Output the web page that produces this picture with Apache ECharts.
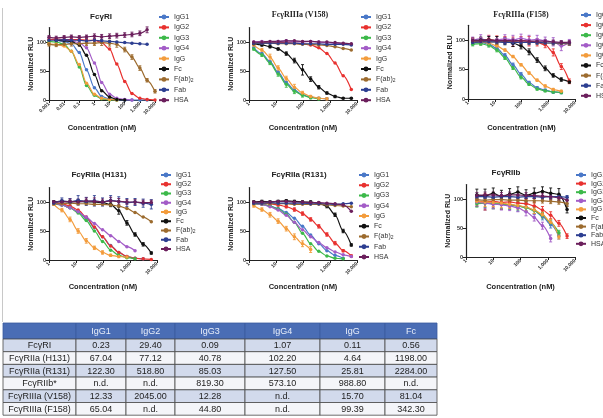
<!DOCTYPE html>
<html>
<head>
<meta charset="utf-8">
<script src="https://cdn.jsdelivr.net/npm/echarts/dist/echarts.min.js"></script>
<style>
html, body { margin: 0; padding: 0; background: #fff; }
#chart { width: 603px; height: 418px; }
</style>
</head>
<body>
<div id="chart"></div>
<script>
var seriesNames = ['IgG1', 'IgG2', 'IgG3', 'IgG4', 'IgG', 'Fc', 'F(ab)2', 'Fab', 'HSA'];
var seriesColors = ['#4a78c8', '#e8312f', '#3cb94a', '#a35cc7', '#f39c3c', '#111111', '#9c6b2e', '#2c3e91', '#6b1f5c'];

// FcγRI
var concRI = [0.001, 0.003, 0.01, 0.03, 0.1, 0.3, 1, 3, 10, 30, 100, 300, 1000, 3000, 10000];
var rluRI = [
    [null, 103, 101, 97, 82, 52, 21, 6, 2, 0, 0, 0, 0, 0, null],
    [104, 105, 104, 104, 104, 103, 103, 99, 88, 62, 32, 11, 3, 1, 0],
    [101, 100, 96, 84, 57, 25, 8, 2, 0, 0, null, null, null, null, null],
    [null, 103, 103, 102, 99, 90, 64, 30, 10, 3, 1, 0, null, null, null],
    [97, 96, 93, 84, 61, 29, 10, 3, 1, 0, null, null, null, null, null],
    [null, 103, 102, 101, 95, 77, 44, 16, 5, 1, 0, null, null, null, null],
    [96, 95, 96, 97, 97, 98, 98, 99, 98, 96, 87, 74, 55, 34, 15],
    [103, 103, 104, 103, 103, 102, 103, 102, 101, 100, 99, 98, 97, 96, null],
    [108, 107, 108, 109, 108, 109, 110, 109, 110, 111, 112, 113, 115, 121, null]
];
var errRI = [
    null, null, null, null, null, null,
    [3, 3, 3, 4, 4, 4, 4, 5, 5, 5, 4, 4, 4, 3, 3],
    null,
    [3, 3, 3, 3, 3, 3, 4, 4, 4, 4, 4, 4, 4, 5, null]
];

// FcγRIIIa (V158)
var concV158 = [1.5, 3, 6, 12, 24, 48, 96, 192, 384, 768, 1536, 3072, 6144];
var rluV158 = [
    [90, 80, 66, 48, 30, 17, 9, 5, 3, 2, null, null, null],
    [99, 99, 99, 99, 99, 98, 97, 95, 90, 80, 64, 42, 18],
    [88, 78, 64, 45, 27, 15, 8, 4, 2, null, null, null, null],
    [100, 101, 100, 101, 102, 101, 100, 101, 100, 99, 98, 97, 96],
    [95, 86, 74, 55, 37, 22, 12, 6, 3, 2, null, null, null],
    [97, 95, 92, 88, 80, 68, 52, 36, 22, 12, 6, 3, 3],
    [98, 98, 98, 97, 97, 97, 96, 96, 95, 94, 92, 89, 86],
    [98, 98, 98, 98, 98, 98, 97, 97, 97, 96, 96, 96, 95],
    [100, 100, 101, 101, 102, 102, 101, 101, 100, 100, 99, 98, 97]
];
var errV158 = [
    null, null,
    [2, 3, 3, 4, 5, 4, 3, 2, 2, null, null, null, null],
    null,
    [2, 3, 5, 4, 4, 5, 3, 2, 2, 2, null, null, null],
    [2, 2, 2, 2, 3, 4, 9, 4, 3, 2, 2, 1, 1],
    null, null, null
];

// FcγRIIIa (F158)
var concF158 = [1.5, 3, 6, 12, 24, 48, 96, 192, 384, 768, 1536, 3072, 6144];
var rluF158 = [
    [95, 96, 93, 86, 74, 58, 42, 28, 19, 15, 12, 11, null],
    [100, 98, 101, 99, 100, 97, 99, 98, 96, 92, 79, 55, 30],
    [93, 94, 91, 83, 70, 53, 37, 25, 17, 14, 12, 11, null],
    [100, 102, 99, 100, 102, 100, 103, 100, 101, 99, 97, 90, 96],
    [97, 97, 95, 90, 83, 72, 58, 44, 32, 22, 16, 13, null],
    [99, 100, 100, 99, 98, 95, 90, 80, 66, 52, 40, 33, 29],
    [97, 98, 97, 97, 97, 97, 96, 96, 96, 95, 95, 94, 94],
    [96, 97, 97, 97, 96, 96, 96, 96, 96, 95, 95, 95, 95],
    [99, 99, 100, 99, 99, 99, 99, 98, 98, 98, 97, 96, 96]
];
var errF158 = [
    [3, 3, 3, 3, 3, 3, 3, 2, 2, 2, 2, 2, null],
    [4, 6, 7, 8, 6, 8, 7, 8, 6, 5, 6, 5, 4],
    [3, 3, 3, 3, 3, 3, 3, 2, 2, 2, 2, 2, null],
    [5, 7, 8, 6, 7, 8, 7, 8, 7, 6, 7, 8, 5],
    [2, 2, 2, 2, 2, 2, 2, 2, 2, 2, 2, 2, null],
    [4, 5, 6, 7, 6, 6, 5, 5, 4, 4, 3, 3, 2],
    [3, 3, 3, 3, 3, 3, 3, 3, 3, 3, 3, 3, 3],
    [3, 3, 3, 3, 3, 3, 3, 3, 3, 3, 3, 3, 3],
    [3, 3, 3, 3, 3, 3, 3, 3, 3, 3, 3, 3, 3]
];

// FcγRIIa (H131)
var concH131 = [1.5, 3, 6, 12, 24, 48, 96, 192, 384, 768, 1536, 3072, 6144];
var rluH131 = [
    [98, 95, 90, 83, 72, 56, 40, 25, 13, 6, 3, 2, null],
    [99, 97, 93, 86, 74, 57, 40, 24, 13, 6, 3, 2, 1],
    [97, 95, 90, 81, 68, 50, 32, 17, 8, 4, 2, null, null],
    [99, 95, 90, 83, 74, 63, 52, 42, 32, 23, 16, null, null],
    [96, 86, 70, 50, 33, 21, 13, 8, 6, 5, null, null, null],
    [100, 101, 100, 101, 100, 100, 99, 96, 85, 64, 44, 27, 12],
    [97, 97, 98, 97, 97, 96, 96, 95, 93, 89, 82, 74, 66],
    [98, 102, 100, 103, 101, 102, 100, 103, 101, 99, 100, 98, 96],
    [100, 100, 101, 100, 102, 101, 100, 102, 101, 100, 100, 99, 99]
];
var errH131 = [
    null, null, null, null,
    [2, 3, 4, 4, 4, 3, 3, 2, 2, 2, null, null, null],
    [2, 2, 2, 3, 3, 3, 3, 4, 6, 4, 3, 3, 2],
    null,
    [3, 5, 6, 8, 7, 9, 7, 8, 8, 7, 6, 7, 8],
    [2, 3, 4, 5, 5, 6, 5, 6, 5, 4, 4, 4, 4]
];

// FcγRIIa (R131)
var concR131 = [1.5, 3, 6, 12, 24, 48, 96, 192, 384, 768, 1536, 3072, 6144];
var rluR131 = [
    [97, 96, 93, 89, 82, 72, 58, 43, 28, 16, 8, 3, null],
    [99, 98, 97, 95, 92, 87, 80, 70, 58, 44, 29, 16, 7],
    [97, 96, 93, 88, 79, 65, 46, 28, 15, 7, 3, 2, null],
    [98, 96, 92, 86, 77, 65, 52, 40, 30, 21, 14, 9, 6],
    [94, 87, 78, 67, 54, 40, 28, 18, null, null, null, null, null],
    [100, 101, 100, 101, 102, 101, 100, 100, 98, 93, 78, 50, 26],
    [97, 97, 97, 97, 97, 96, 96, 96, 96, 95, 94, 93, 92],
    [98, 98, 99, 98, 98, 98, 98, 97, 97, 97, 96, 97, 98],
    [100, 100, 100, 101, 101, 100, 100, 99, 99, 98, 97, 95, 84]
];
var errR131 = [
    null,
    [2, 2, 2, 2, 2, 3, 3, 3, 3, 3, 3, 2, 2],
    null, null,
    [3, 3, 4, 4, 4, 5, 5, 5, null, null, null, null, null],
    [2, 2, 2, 2, 2, 2, 2, 2, 2, 3, 3, 3, 2],
    null, null, null
];

// FcγRIIb
var concRIIb = [2.5, 5, 10, 20, 40, 80, 160, 320, 640, 1280, 2560, 5120];
var rluRIIb = [
    [95, 93, 94, 92, 90, 88, 86, 80, 70, 56, 36, null],
    [97, 95, 96, 94, 95, 93, 92, 88, 81, 72, 58, 36],
    [92, 93, 92, 91, 90, 88, 85, 80, 72, 59, 42, null],
    [95, 93, 91, 90, 88, 85, 78, 68, 54, 32, null, null],
    [96, 95, 94, 93, 91, 89, 86, 81, 73, 60, 35, null],
    [107, 105, 110, 104, 108, 112, 106, 110, 113, 110, 108, 82],
    [99, 98, 99, 99, 98, 98, 97, 97, 97, 96, 95, 92],
    [104, 104, 103, 104, 104, 103, 104, 104, 103, 104, 104, 103],
    [106, 107, 107, 106, 107, 107, 106, 106, 105, 104, 102, 98]
];
var errRIIb = [
    [8, 12, 10, 9, 8, 9, 8, 7, 6, 6, 5, null],
    [9, 14, 10, 12, 9, 8, 7, 6, 6, 6, 5, 4],
    [6, 8, 9, 8, 7, 7, 6, 5, 5, 5, 4, null],
    [7, 9, 8, 9, 8, 7, 7, 6, 6, 6, null, null],
    [6, 8, 7, 8, 7, 6, 6, 6, 5, 5, 4, null],
    [10, 12, 9, 11, 10, 9, 10, 9, 8, 9, 10, 6],
    [4, 4, 4, 4, 4, 4, 4, 4, 4, 4, 4, 5],
    [3, 3, 3, 3, 3, 3, 3, 3, 3, 3, 3, 3],
    [5, 5, 5, 5, 5, 5, 5, 5, 5, 5, 5, 5]
];

// IC50 table (nM), null = n.d.
var tableCols = ['IgG1', 'IgG2', 'IgG3', 'IgG4', 'IgG', 'Fc'];
var tableRows = ['FcγRI', 'FcγRIIa (H131)', 'FcγRIIa (R131)', 'FcγRIIb*', 'FcγRIIIa (V158)', 'FcγRIIIa (F158)'];
var ic50IgG1 = [0.23, 67.04, 122.30, null, 12.33, 65.04];
var ic50IgG2 = [29.40, 77.12, 518.80, null, 2045.00, null];
var ic50IgG3 = [0.09, 40.78, 85.03, 819.30, 12.28, 44.80];
var ic50IgG4 = [1.07, 102.20, 127.50, 573.10, null, null];
var ic50IgG = [0.11, 4.64, 25.81, 988.80, 15.70, 99.39];
var ic50Fc = [0.56, 1198.00, 2284.00, null, 81.04, 342.30];
var ic50Cols = [ic50IgG1, ic50IgG2, ic50IgG3, ic50IgG4, ic50IgG, ic50Fc];

var panels = [
    { title: 'FcγRI', conc: concRI, rlu: rluRI, err: errRI, xMin: 0.001, serif: false,
      grid: { left: 49, top: 27.5, width: 106, height: 72.5 }, titlePos: [101, 13],
      legendPos: [158, 13], legendGap: 2.4, xNameGap: 24 },
    { title: 'FcγRIIIa (V158)', conc: concV158, rlu: rluV158, err: errV158, xMin: 1, serif: true,
      grid: { left: 249, top: 27.5, width: 108, height: 72.5 }, titlePos: [300, 11],
      legendPos: [360, 13], legendGap: 2.4, xNameGap: 24 },
    { title: 'FcγRIIIa (F158)', conc: concF158, rlu: rluF158, err: errF158, xMin: 1, serif: true,
      grid: { left: 468, top: 25.3, width: 107, height: 73.7 }, titlePos: [521, 11],
      legendPos: [580, 11], legendGap: 2.1, xNameGap: 25 },
    { title: 'FcγRIIa (H131)', conc: concH131, rlu: rluH131, err: errH131, xMin: 1, serif: false,
      grid: { left: 49, top: 187.5, width: 108, height: 72.5 }, titlePos: [99, 171],
      legendPos: [160, 171], legendGap: 1.25, xNameGap: 23 },
    { title: 'FcγRIIa (R131)', conc: concR131, rlu: rluR131, err: errR131, xMin: 1, serif: false,
      grid: { left: 249, top: 187.5, width: 108, height: 72.5 }, titlePos: [299, 171],
      legendPos: [358, 171], legendGap: 2.25, xNameGap: 23 },
    { title: 'FcγRIIb', conc: concRIIb, rlu: rluRIIb, err: errRIIb, xMin: 1, serif: false,
      grid: { left: 466, top: 184.5, width: 109, height: 72.5 }, titlePos: [506, 169],
      legendPos: [575, 171], legendGap: 0.6, xNameGap: 26 }
];

// table layout, in table pixels
var colEdges = [0, 73, 123, 172, 242, 317, 382, 434];
var rowEdges = [0, 16, 28.7, 41.4, 54.1, 66.8, 79.5, 92.2];

function fmtConc(v) {
    if (v >= 1000) {
        return Math.round(v).toLocaleString('en-US');
    }
    return String(Math.round(v * 1000) / 1000);
}

function errorBarSeries(p, i, s) {
    var vals = p.rlu[s], errs = p.err[s], items = [];
    for (var k = 0; k < p.conc.length; k++) {
        if (vals[k] !== null && errs[k] !== null) {
            items.push([p.conc[k], vals[k] - errs[k], vals[k] + errs[k]]);
        }
    }
    return {
        type: 'custom', xAxisIndex: i, yAxisIndex: i, silent: true, z: 1,
        data: items, encode: { x: 0, y: [1, 2] },
        renderItem: function (params, api) {
            var x = api.value(0);
            var lo = api.coord([x, api.value(1)]);
            var hi = api.coord([x, api.value(2)]);
            var style = { stroke: seriesColors[s], lineWidth: 0.9 };
            return {
                type: 'group',
                children: [
                    { type: 'line', shape: { x1: lo[0], y1: lo[1], x2: hi[0], y2: hi[1] }, style: style },
                    { type: 'line', shape: { x1: hi[0] - 1.5, y1: hi[1], x2: hi[0] + 1.5, y2: hi[1] }, style: style },
                    { type: 'line', shape: { x1: lo[0] - 1.5, y1: lo[1], x2: lo[0] + 1.5, y2: lo[1] }, style: style }
                ]
            };
        }
    };
}

function buildOption() {
    var titles = [], grids = [], xAxes = [], yAxes = [], legends = [], series = [];
    var sans = 'Arial, "Liberation Sans", sans-serif';
    var serif = '"Liberation Serif", "DejaVu Serif", serif';

    panels.forEach(function (p, i) {
        titles.push({
            text: p.title, left: p.titlePos[0], top: p.titlePos[1], textAlign: 'center', padding: 0,
            textStyle: { fontSize: 8, fontWeight: 'bold', color: '#222', fontFamily: p.serif ? serif : sans }
        });
        grids.push({
            left: p.grid.left, top: p.grid.top, width: p.grid.width, height: p.grid.height,
            containLabel: false, outerBoundsMode: 'none'
        });
        xAxes.push({
            type: 'log', logBase: 10, gridIndex: i, min: p.xMin, max: 10000,
            name: 'Concentration (nM)', nameLocation: 'middle', nameGap: p.xNameGap, nameMoveOverlap: false,
            nameTextStyle: { fontSize: 7.5, fontWeight: 'bold', color: '#222', fontFamily: sans },
            axisLine: { lineStyle: { color: '#222', width: 1.2 } },
            axisTick: { length: 3, lineStyle: { color: '#222', width: 1 } },
            axisLabel: { rotate: 45, fontSize: 5, fontWeight: 'bold', color: '#333', margin: 3, formatter: fmtConc },
            splitLine: { show: false },
            minorTick: { show: false }
        });
        yAxes.push({
            type: 'value', gridIndex: i, min: 0, max: 125, interval: 50,
            name: 'Normalized RLU', nameLocation: 'middle', nameGap: 14, nameRotate: 90, nameMoveOverlap: false,
            nameTextStyle: { fontSize: 7, fontWeight: 'bold', color: '#222', fontFamily: sans },
            axisLine: { show: true, lineStyle: { color: '#222', width: 1.2 } },
            axisTick: { show: true, length: 3, customValues: [0, 50, 100], lineStyle: { color: '#222' } },
            axisLabel: { fontSize: 5.5, fontWeight: 'bold', color: '#333', margin: 3, customValues: [0, 50, 100] },
            splitLine: { show: false }
        });
        legends.push({
            data: seriesNames, orient: 'vertical', left: p.legendPos[0], top: p.legendPos[1],
            itemWidth: 10, itemHeight: 6, itemGap: p.legendGap, padding: 0,
            selectedMode: false,
            formatter: function (name) {
                return name === 'F(ab)2' ? 'F(ab){sub|2}' : name;
            },
            textStyle: {
                fontSize: 7, lineHeight: 8, color: '#333', fontFamily: sans,
                rich: { sub: { fontSize: 5, lineHeight: 8, padding: [3, 0, 0, 0], color: '#333' } }
            }
        });
        p.rlu.forEach(function (vals, s) {
            var pts = [];
            for (var k = 0; k < p.conc.length; k++) {
                if (vals[k] !== null) {
                    pts.push([p.conc[k], vals[k]]);
                }
            }
            series.push({
                type: 'line', name: seriesNames[s], xAxisIndex: i, yAxisIndex: i,
                data: pts, smooth: 0.3, smoothMonotone: 'x',
                symbol: 'circle', symbolSize: 3.5, clip: false,
                itemStyle: { color: seriesColors[s] },
                lineStyle: { color: seriesColors[s], width: 1.2 },
                emphasis: { disabled: true }, z: 2
            });
            if (p.err[s]) {
                series.push(errorBarSeries(p, i, s));
            }
        });
    });

    // table grid
    grids.push({ left: 3, top: 323, width: 434, height: 92.2, containLabel: false, outerBoundsMode: 'none' });
    xAxes.push({ type: 'value', gridIndex: 6, min: 0, max: 434, show: false });
    yAxes.push({ type: 'value', gridIndex: 6, min: 0, max: 92.2, inverse: true, show: false });

    var cells = [];
    for (var r = 0; r <= tableRows.length; r++) {
        for (var c = 0; c <= tableCols.length; c++) {
            var text;
            if (r === 0) {
                text = c === 0 ? '' : tableCols[c - 1];
            } else if (c === 0) {
                text = tableRows[r - 1];
            } else {
                var v = ic50Cols[c - 1][r - 1];
                text = v === null ? 'n.d.' : v.toFixed(2);
            }
            cells.push({ col: c, row: r, text: text });
        }
    }

    series.push({
        type: 'custom', xAxisIndex: 6, yAxisIndex: 6, silent: true,
        data: cells.map(function (c) { return [c.col, c.row]; }),
        renderItem: function (params, api) {
            var cell = cells[params.dataIndex];
            var p0 = api.coord([colEdges[cell.col], rowEdges[cell.row]]);
            var p1 = api.coord([colEdges[cell.col + 1], rowEdges[cell.row + 1]]);
            var header = cell.row === 0;
            var fill = header ? '#4a6db5' : (cell.row % 2 === 1 ? '#d2daec' : '#f4f5f9');
            return {
                type: 'group',
                children: [{
                    type: 'rect',
                    shape: { x: p0[0], y: p0[1], width: p1[0] - p0[0], height: p1[1] - p0[1] },
                    style: { fill: fill, stroke: header ? '#3b5a9e' : '#4a4a4a', lineWidth: 0.8 }
                }, {
                    type: 'text',
                    style: {
                        text: cell.text, x: (p0[0] + p1[0]) / 2, y: (p0[1] + p1[1]) / 2 + 0.5,
                        align: 'center', verticalAlign: 'middle',
                        fill: header ? '#e8eefa' : '#222',
                        font: '9px Arial, "Liberation Sans", sans-serif'
                    }
                }]
            };
        }
    });

    return {
        backgroundColor: '#fff',
        animation: false,
        title: titles,
        grid: grids,
        xAxis: xAxes,
        yAxis: yAxes,
        legend: legends,
        graphic: [{
            type: 'line', silent: true,
            shape: { x1: 2.5, y1: 8, x2: 2.5, y2: 322 },
            style: { stroke: '#c8c8c8', lineWidth: 1 }
        }],
        series: series
    };
}

var chart = echarts.init(document.getElementById('chart'));
chart.setOption(buildOption());
window.onresize = function () {
    chart.resize();
};
</script>
</body>
</html>
